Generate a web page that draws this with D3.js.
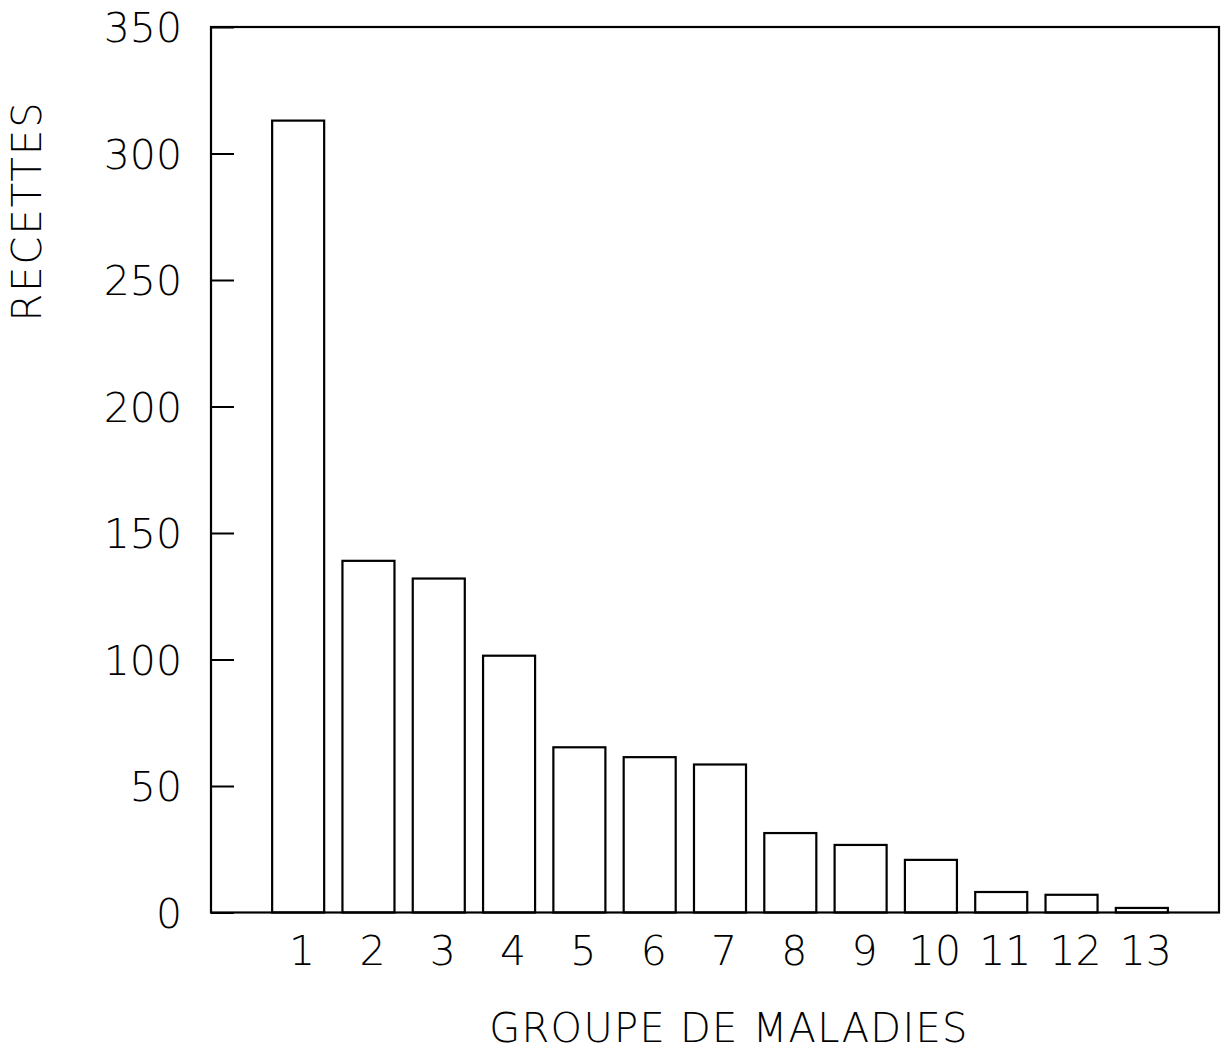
<!DOCTYPE html>
<html>
<head>
<meta charset="utf-8">
<script src="https://cdn.jsdelivr.net/npm/d3@7"></script>
<style>
  body { margin: 0; background: #fff; }
  text { font-family: "DejaVu Sans", sans-serif; font-weight: 200; fill: #000; }
</style>
</head>
<body>
<div id="chart"></div>
<script>
// data
let groupes = ["1","2","3","4","5","6","7","8","9","10","11","12","13"]
let recettes = [313, 139, 132, 101.5, 65.3, 61.4, 58.5, 31.4, 26.7, 20.8, 8.1, 7.0, 1.8]
let yTicks = [0, 50, 100, 150, 200, 250, 300, 350]

let width = 1227, height = 1052
let plotLeft = 211, plotRight = 1219, plotTop = 27, plotBottom = 912.5

let svg = d3.select("#chart").append("svg")
  .attr("width", width)
  .attr("height", height)

let x = d3.scaleBand()
  .domain(groupes)
  .range([263, 1177])
  .paddingInner(0.26)
  .paddingOuter(0.13)

let y = d3.scaleLinear()
  .domain([0, 350])
  .range([plotBottom, plotTop])

// frame
svg.append("rect")
  .attr("x", plotLeft).attr("y", plotTop)
  .attr("width", plotRight - plotLeft).attr("height", plotBottom - plotTop)
  .style("fill", "none").style("stroke", "#000").style("stroke-width", 2.2)

// y axis: inward ticks, labels on the left
let yAxis = d3.axisLeft(y).tickValues(yTicks).tickSize(-23).tickPadding(0)
let gy = svg.append("g").attr("transform", "translate(" + plotLeft + ",0)").call(yAxis)
gy.select(".domain").remove()
gy.selectAll(".tick line").style("stroke", "#000").style("stroke-width", 2)
gy.selectAll(".tick text")
  .attr("x", -29)
  .attr("dy", "0.36em")
  .style("font-size", "41px")
  .style("font-family", "DejaVu Sans, sans-serif")
  .style("font-weight", 200)

// x labels under each bar
let xAxis = d3.axisBottom(x).tickSize(0).tickPadding(0)
let gx = svg.append("g").attr("transform", "translate(0," + plotBottom + ")").call(xAxis)
gx.select(".domain").remove()
gx.selectAll(".tick text")
  .attr("x", 4)
  .attr("y", 52)
  .attr("dy", 0)
  .style("font-size", "41px")
  .style("font-family", "DejaVu Sans, sans-serif")
  .style("font-weight", 200)

// bars
svg.selectAll(".bar")
  .data(recettes)
  .join("rect")
  .attr("class", "bar")
  .attr("x", (d, i) => x(groupes[i]))
  .attr("y", d => y(d))
  .attr("width", x.bandwidth())
  .attr("height", d => y(0) - y(d))
  .style("fill", "none")
  .style("stroke", "#000")
  .style("stroke-width", 2.2)

// axis titles
svg.append("text")
  .attr("x", 729).attr("y", 1042)
  .attr("text-anchor", "middle")
  .style("font-size", "40px")
  .style("letter-spacing", "1.3px")
  .text("GROUPE DE MALADIES")

svg.append("text")
  .attr("transform", "translate(41,211) rotate(-90)")
  .attr("text-anchor", "middle")
  .style("font-size", "40px")
  .style("letter-spacing", "2px")
  .text("RECETTES")
</script>
</body>
</html>
